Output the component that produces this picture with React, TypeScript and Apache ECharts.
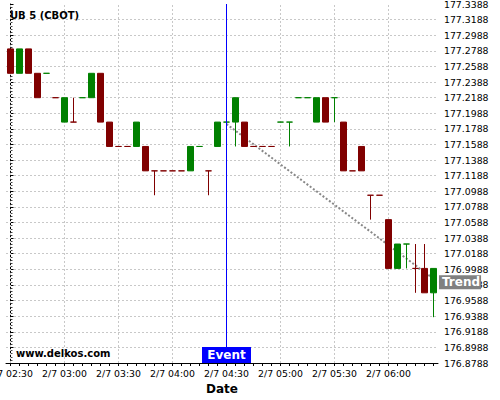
import React, { useEffect, useRef } from "react";
import * as echarts from "echarts";

// ---- data ----
const categories = [
  "2/7 02:30", "2/7 02:35", "2/7 02:40", "2/7 02:45", "2/7 02:50", "2/7 02:55",
  "2/7 03:00", "2/7 03:05", "2/7 03:10", "2/7 03:15", "2/7 03:20", "2/7 03:25",
  "2/7 03:30", "2/7 03:35", "2/7 03:40", "2/7 03:45", "2/7 03:50", "2/7 03:55",
  "2/7 04:00", "2/7 04:05", "2/7 04:10", "2/7 04:15", "2/7 04:20", "2/7 04:25",
  "2/7 04:30", "2/7 04:35", "2/7 04:40", "2/7 04:45", "2/7 04:50", "2/7 04:55",
  "2/7 05:00", "2/7 05:05", "2/7 05:10", "2/7 05:15", "2/7 05:20", "2/7 05:25",
  "2/7 05:30", "2/7 05:35", "2/7 05:40", "2/7 05:45", "2/7 05:50", "2/7 05:55",
  "2/7 06:00", "2/7 06:05", "2/7 06:10", "2/7 06:15", "2/7 06:20", "2/7 06:25",
];

const opens = [
  177.28125, 177.25, 177.28125, 177.25, 177.25, 177.21875,
  177.1875, 177.1875, 177.21875, 177.21875, 177.25, 177.1875,
  177.15625, 177.15625, 177.15625, 177.15625, 177.125, 177.125,
  177.125, 177.125, 177.125, 177.15625, 177.125, 177.15625,
  177.1875, 177.1875, 177.1875, 177.15625, 177.15625, 177.15625,
  177.1875, 177.1875, 177.21875, 177.21875, 177.1875, 177.21875,
  177.21875, 177.1875, 177.125, 177.15625, 177.09375, 177.09375,
  177.0625, 177.0, 177.03125, 177.0, 177.0, 176.96875,
];
const closes = [
  177.25, 177.28125, 177.25, 177.21875, 177.25, 177.21875,
  177.21875, 177.1875, 177.21875, 177.25, 177.1875, 177.15625,
  177.15625, 177.15625, 177.1875, 177.125, 177.125, 177.125,
  177.125, 177.125, 177.15625, 177.15625, 177.125, 177.1875,
  177.1875, 177.21875, 177.15625, 177.15625, 177.15625, 177.15625,
  177.1875, 177.1875, 177.21875, 177.21875, 177.21875, 177.1875,
  177.21875, 177.125, 177.125, 177.125, 177.09375, 177.09375,
  177.0, 177.03125, 177.03125, 177.0, 176.96875, 177.0,
];
const lows = [
  177.25, 177.25, 177.25, 177.21875, 177.25, 177.21875,
  177.1875, 177.1875, 177.21875, 177.21875, 177.1875, 177.15625,
  177.15625, 177.15625, 177.15625, 177.125, 177.09375, 177.125,
  177.125, 177.125, 177.125, 177.15625, 177.09375, 177.15625,
  177.1875, 177.15625, 177.15625, 177.15625, 177.15625, 177.15625,
  177.1875, 177.15625, 177.21875, 177.21875, 177.1875, 177.1875,
  177.1875, 177.125, 177.125, 177.125, 177.0625, 177.09375,
  177.0, 177.0, 177.0, 176.96875, 176.96875, 176.9375,
];
const highs = [
  177.28125, 177.28125, 177.28125, 177.25, 177.25, 177.21875,
  177.21875, 177.21875, 177.21875, 177.25, 177.25, 177.1875,
  177.15625, 177.15625, 177.1875, 177.15625, 177.125, 177.125,
  177.125, 177.125, 177.15625, 177.15625, 177.125, 177.1875,
  177.1875, 177.21875, 177.1875, 177.15625, 177.15625, 177.15625,
  177.1875, 177.1875, 177.21875, 177.21875, 177.21875, 177.21875,
  177.21875, 177.1875, 177.125, 177.15625, 177.09375, 177.09375,
  177.0625, 177.03125, 177.03125, 177.03125, 177.03125, 177.0,
];

// trend line: [category position, price]
const trendX = [24, 47.5];
const trendY = [177.185, 176.9824];

const eventTime = "2/7 04:30";
const title = "UB 5 (CBOT)";
const watermark = "www.delkos.com";

// y axis tick labels
const yMinLabel = 176.8788;
const yMaxLabel = 177.3388;
const yStep = 0.02;

// ---- helpers ----
const SCALE = 10000;
const toY = (v: number) => (v - yMinLabel) * SCALE;
const UP = "#008000";
const DOWN = "#800000";
const BLUE = "#0000ff";
const FONT = "DejaVu Sans";

export default function App() {
  const ref = useRef<HTMLDivElement>(null);

  useEffect(() => {
    if (!ref.current) return;
    const chart = echarts.init(ref.current, null, { renderer: "svg" });

    let prevDir = 1;
    const candleData = categories.map((_, i) => {
      const o = opens[i];
      const c = closes[i];
      let dir: number;
      if (c > o) dir = 1;
      else if (c < o) dir = -1;
      else if (i > 0 && c > closes[i - 1]) dir = 1;
      else if (i > 0 && c < closes[i - 1]) dir = -1;
      else dir = prevDir;
      prevDir = dir;
      const col = dir > 0 ? UP : DOWN;
      return {
        value: [toY(o), toY(c), toY(lows[i]), toY(highs[i])],
        itemStyle: {
          color: col,
          color0: col,
          borderColor: col,
          borderColor0: col,
          borderColorDoji: col,
        },
      };
    });

    const gridIdx = categories.map((_, i) => i).filter((i) => i % 6 === 0);
    const n = categories.length;
    const eventIdx = categories.indexOf(eventTime);
    const yTop = toY(yMaxLabel);

    const trendData = trendX.map((x, i) => {
      const item: any = { value: [x, toY(trendY[i])] };
      if (i === trendX.length - 1) {
        item.label = {
          show: true,
          position: "right",
          distance: 1,
          formatter: "Trend",
          backgroundColor: "#808080",
          color: "#fff",
          fontWeight: "bold",
          fontFamily: FONT,
          fontSize: 12,
          lineHeight: 14,
          padding: [0, 1, 0, 3],
        };
      }
      return item;
    });

    chart.setOption({
      animation: false,
      backgroundColor: "#fff",
      title: {
        text: title,
        left: 10,
        top: 9,
        padding: 0,
        z: 20,
        textStyle: {
          fontFamily: FONT,
          fontSize: 10,
          fontWeight: "bold",
          color: "#000",
          lineHeight: 12,
        },
      },
      graphic: [
        {
          type: "text",
          left: 16,
          top: 348,
          style: {
            text: watermark,
            font: `bold 10px "${FONT}"`,
            fill: "#000",
          },
          z: 10,
        },
      ],
      grid: {
        left: 6,
        right: 62,
        top: 4,
        bottom: 37,
        containLabel: false,
        outerBoundsMode: "none",
      },
      xAxis: [
        {
          type: "category",
          data: categories,
          boundaryGap: true,
          axisLine: { show: true, lineStyle: { color: "#000", width: 1 } },
          axisTick: {
            show: true,
            interval: 0,
            alignWithLabel: true,
            length: 3,
            lineStyle: { color: "#000" },
          },
          axisLabel: {
            interval: 5,
            fontFamily: FONT,
            fontSize: 9.33,
            color: "#000",
            margin: 6,
          },
          splitLine: { show: false },
          name: "Date",
          nameLocation: "middle",
          nameGap: 17,
          nameTextStyle: {
            fontFamily: FONT,
            fontSize: 12,
            fontWeight: "bold",
            color: "#000",
          },
        },
        {
          type: "value",
          min: -0.5,
          max: n - 0.5,
          show: false,
        },
      ],
      yAxis: {
        type: "value",
        position: "right",
        min: 0,
        max: yTop,
        interval: yStep * SCALE,
        axisLine: { show: true, lineStyle: { color: "#000", width: 1 } },
        axisTick: { show: true, length: 3, lineStyle: { color: "#000" } },
        minorTick: { show: true, splitNumber: 5, length: 2, lineStyle: { color: "#444" } },
        axisLabel: {
          fontFamily: FONT,
          fontSize: 9.33,
          color: "#000",
          margin: 6,
          formatter: (v: number) => (yMinLabel + v / SCALE).toFixed(4),
        },
        splitLine: {
          show: true,
          showMaxLine: false,
          lineStyle: { color: "#c8c8c8", type: [2, 2], width: 1 },
        },
      },
      series: [
        {
          type: "line",
          xAxisIndex: 1,
          yAxisIndex: 0,
          z: 1,
          data: trendData,
          showSymbol: true,
          symbol: "circle",
          symbolSize: 0,
          lineStyle: { color: "#888", width: 2, type: "dotted" },
          itemStyle: { color: "#888" },
          silent: true,
          markLine: {
            silent: true,
            z: 1,
            symbol: "none",
            label: { show: false },
            lineStyle: { color: "#c8c8c8", type: [2, 2], width: 1 },
            data: gridIdx.filter((i) => i !== eventIdx).map((i) => ({ xAxis: i })),
          },
        },
        {
          type: "line",
          xAxisIndex: 1,
          yAxisIndex: 0,
          z: 5,
          silent: true,
          symbol: "none",
          showSymbol: false,
          data: [
            [eventIdx, 0],
            [eventIdx, yTop],
          ],
          itemStyle: { color: BLUE },
          lineStyle: { color: BLUE, type: "solid", width: 1 },
        },
        {
          type: "candlestick",
          xAxisIndex: 0,
          yAxisIndex: 0,
          barWidth: 7,
          data: candleData,
          itemStyle: { borderWidth: 1 },
          markPoint: {
            silent: true,
            z: 6,
            data: [
              {
                coord: [eventTime, 0],
                symbol: "rect",
                symbolSize: [49, 16],
                symbolOffset: [0, -8],
                itemStyle: { color: BLUE },
                label: {
                  show: true,
                  position: "inside",
                  formatter: "Event",
                  color: "#fff",
                  fontWeight: "bold",
                  fontFamily: FONT,
                  fontSize: 12,
                },
              },
            ],
          },
        },
      ],
    });

    return () => chart.dispose();
  }, []);

  return (
    <div
      ref={ref}
      style={{ position: "fixed", left: 0, top: 0, width: 500, height: 400 }}
    />
  );
}
